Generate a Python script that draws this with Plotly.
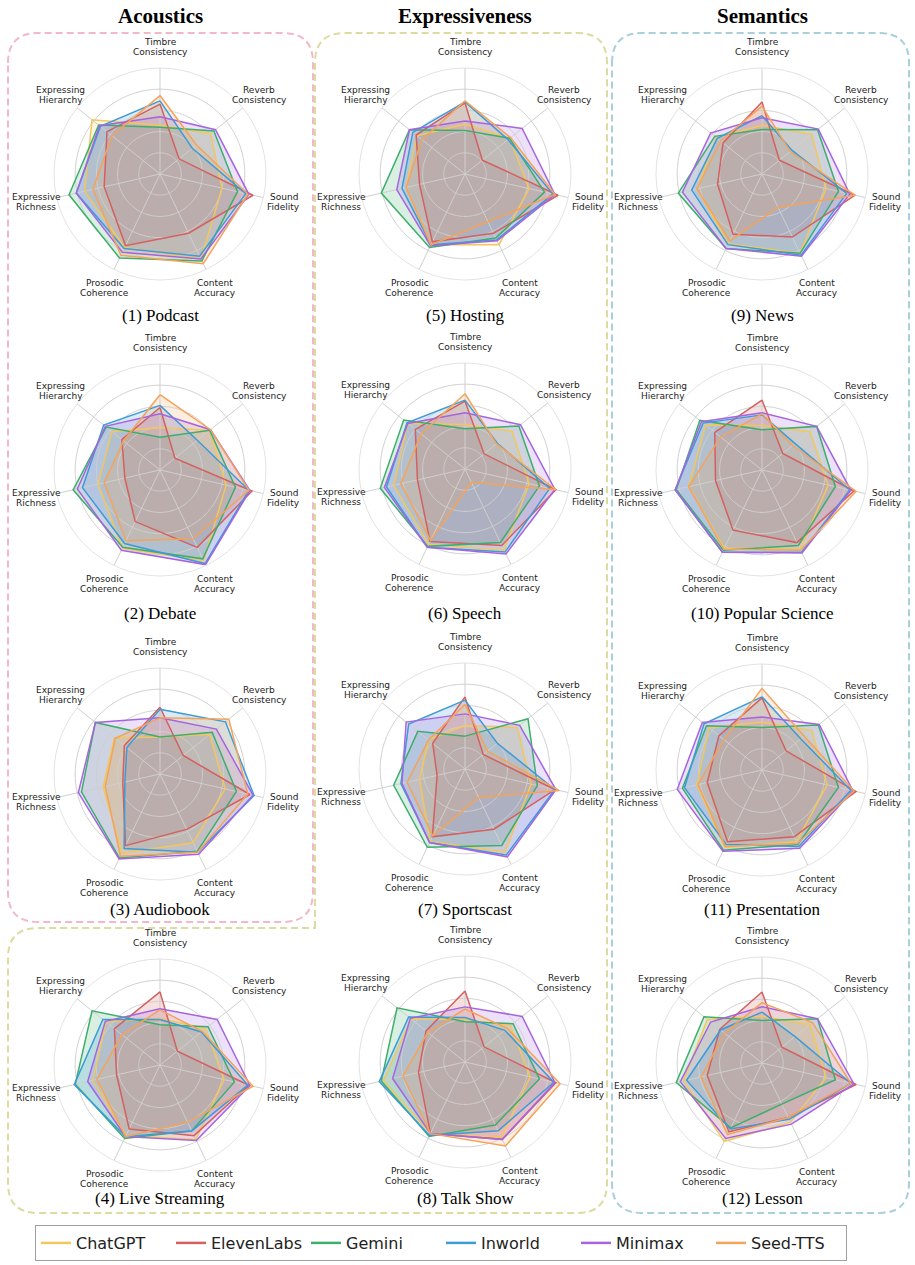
import numpy as np
import plotly.graph_objects as go

W, H = 915, 1265

AXES = ["Timbre<br>Consistency", "Reverb<br>Consistency", "Sound<br>Fidelity",
        "Content<br>Accuracy", "Prosodic<br>Coherence", "Expressive<br>Richness",
        "Expressing<br>Hierarchy"]
MODELS = ["ChatGPT", "ElevenLabs", "Gemini", "Inworld", "Minimax", "Seed-TTS"]
COLORS = ["#F2C75C", "#D4605F", "#3DAE6B", "#3D9BD8", "#A565E0", "#F4A35A"]
GROUPS = ["Acoustics", "Expressiveness", "Semantics"]
GRID_LEVELS = [1, 2, 3, 4]
R_MAX = 5

# rows: ChatGPT, ElevenLabs, Gemini, Inworld, Minimax, Seed-TTS
# cols: Timbre, Reverb, Sound Fidelity, Content Acc., Prosodic Coh., Expressive Rich., Expressing Hier.
podcast = [
    [2.30, 3.05, 3.00, 4.45, 3.85, 3.65, 4.10],
    [3.30, 1.15, 4.50, 3.10, 3.75, 2.70, 3.20],
    [2.20, 3.25, 3.75, 4.55, 4.40, 4.40, 3.70],
    [3.45, 1.95, 4.15, 4.30, 3.90, 4.05, 3.60],
    [2.70, 3.35, 4.30, 4.45, 4.10, 4.05, 3.65],
    [3.70, 2.20, 4.25, 4.70, 4.25, 3.25, 2.90],
]
debate = [
    [2.00, 3.00, 3.20, 4.75, 4.10, 3.00, 2.90],
    [2.95, 0.90, 4.45, 4.05, 2.70, 1.70, 2.30],
    [1.55, 3.00, 3.65, 4.65, 4.05, 4.20, 3.25],
    [3.05, 2.25, 4.30, 4.90, 3.85, 3.75, 3.40],
    [2.65, 3.05, 4.35, 4.95, 4.20, 4.00, 3.30],
    [3.55, 3.05, 4.30, 3.60, 3.70, 2.70, 2.20],
]
audiobook = [
    [1.75, 3.00, 3.15, 3.60, 4.15, 2.75, 2.75],
    [3.15, 1.40, 4.35, 2.90, 3.75, 1.80, 2.15],
    [1.75, 3.15, 3.70, 4.05, 4.40, 3.80, 3.90],
    [3.05, 3.95, 4.55, 4.10, 3.90, 1.70, 2.00],
    [2.65, 3.40, 4.50, 4.20, 4.45, 3.95, 3.90],
    [2.65, 4.15, 4.25, 4.10, 4.30, 2.65, 2.70],
]
live_streaming = [
    [2.20, 2.75, 3.10, 3.90, 3.70, 3.25, 3.25],
    [3.45, 1.05, 4.30, 3.70, 3.35, 2.10, 2.75],
    [1.90, 2.90, 3.60, 3.45, 3.85, 4.10, 4.10],
    [2.15, 2.50, 4.25, 3.45, 3.75, 4.15, 3.45],
    [2.65, 3.45, 4.35, 3.95, 3.75, 3.50, 3.30],
    [2.60, 2.55, 4.50, 3.00, 3.75, 3.05, 2.30],
]
hosting = [
    [2.35, 2.70, 3.10, 3.70, 3.70, 2.85, 2.90],
    [3.35, 1.05, 4.50, 3.10, 3.55, 2.20, 2.95],
    [2.05, 2.70, 3.85, 3.35, 3.85, 4.05, 3.35],
    [3.40, 2.60, 4.25, 3.45, 3.70, 3.05, 3.15],
    [2.50, 3.45, 4.35, 3.50, 3.75, 3.30, 3.35],
    [3.45, 2.75, 4.35, 2.50, 3.70, 2.85, 2.60],
]
speech = [
    [2.10, 2.85, 3.10, 4.25, 3.95, 3.45, 3.45],
    [3.20, 1.15, 4.40, 4.00, 3.80, 2.30, 3.00],
    [1.90, 3.25, 3.60, 3.85, 4.05, 4.10, 3.70],
    [3.25, 1.95, 4.10, 4.35, 4.10, 3.80, 3.50],
    [2.65, 3.35, 4.35, 4.45, 4.10, 3.90, 3.45],
    [3.55, 1.90, 4.40, 0.70, 3.75, 3.10, 2.65],
]
sportscast = [
    [2.05, 3.15, 3.20, 4.35, 3.80, 2.20, 2.20],
    [3.40, 1.10, 4.35, 3.15, 3.55, 1.35, 1.95],
    [1.55, 3.80, 3.50, 4.00, 4.10, 3.45, 2.85],
    [3.25, 1.95, 4.35, 4.50, 3.85, 3.10, 3.40],
    [2.60, 3.30, 4.40, 4.60, 3.85, 3.05, 3.55],
    [3.05, 1.35, 4.55, 1.50, 3.50, 2.80, 2.20],
]
talk_show = [
    [2.00, 2.75, 3.15, 3.95, 3.75, 3.95, 3.25],
    [3.35, 1.15, 4.40, 4.05, 3.75, 2.25, 2.35],
    [1.90, 2.90, 3.60, 3.30, 3.90, 4.05, 4.10],
    [2.10, 2.40, 4.30, 3.60, 3.85, 4.15, 3.40],
    [2.60, 3.45, 4.35, 4.05, 3.75, 3.50, 3.30],
    [2.50, 2.55, 4.60, 4.40, 3.75, 3.00, 2.25],
]
news = [
    [2.30, 3.00, 3.10, 4.15, 3.65, 3.15, 2.75],
    [3.40, 1.05, 4.50, 3.30, 3.15, 2.15, 2.35],
    [2.10, 3.35, 3.70, 4.15, 3.90, 4.05, 2.85],
    [2.75, 1.80, 4.10, 4.25, 3.70, 3.40, 2.70],
    [2.65, 3.40, 4.25, 4.30, 3.90, 3.85, 3.10],
    [3.20, 1.70, 4.50, 1.75, 3.50, 3.15, 2.50],
]
popular_science = [
    [2.10, 2.90, 3.20, 4.15, 4.10, 3.55, 3.40],
    [3.30, 1.25, 4.45, 3.80, 3.15, 2.25, 2.85],
    [1.90, 3.30, 3.55, 3.95, 4.20, 4.15, 3.75],
    [2.60, 2.00, 4.25, 4.30, 4.30, 4.20, 3.55],
    [2.70, 3.30, 4.30, 4.35, 4.30, 4.20, 3.65],
    [2.65, 1.85, 4.55, 4.20, 4.15, 3.55, 2.50],
]
presentation = [
    [2.25, 3.00, 3.15, 3.75, 4.05, 3.15, 3.20],
    [3.40, 1.45, 4.55, 3.50, 3.75, 2.65, 2.60],
    [2.00, 3.40, 3.70, 3.90, 4.20, 3.85, 3.35],
    [3.45, 2.35, 4.30, 4.00, 3.90, 3.75, 3.50],
    [2.50, 3.45, 4.40, 4.10, 4.25, 4.10, 3.60],
    [3.85, 2.55, 4.45, 3.85, 4.00, 3.10, 2.30],
]
lesson = [
    [2.20, 2.90, 3.10, 3.10, 4.10, 3.80, 3.30],
    [3.35, 1.20, 4.55, 2.85, 3.60, 2.65, 2.55],
    [2.00, 3.35, 3.55, 2.15, 3.40, 4.15, 3.50],
    [2.40, 2.00, 4.30, 2.95, 3.45, 3.65, 2.50],
    [2.65, 3.35, 4.45, 3.20, 3.95, 3.95, 3.10],
    [2.85, 3.05, 4.30, 2.85, 3.75, 2.95, 2.25],
]

SCENARIO_NAMES = ["(1) Podcast", "(2) Debate", "(3) Audiobook", "(4) Live Streaming",
                  "(5) Hosting", "(6) Speech", "(7) Sportscast", "(8) Talk Show",
                  "(9) News", "(10) Popular Science", "(11) Presentation", "(12) Lesson"]
SCENARIO_DATA = [podcast, debate, audiobook, live_streaming,
                 hosting, speech, sportscast, talk_show,
                 news, popular_science, presentation, lesson]

# ---- layout geometry (pixels) ----
COL_X = [160, 465, 762]
ROW_Y = [[174, 470, 774, 1065], [174, 469, 769, 1062], [174, 470, 770, 1063]]
CAPTION_Y = [315, 613, 910, 1198]
RADIUS = 106
LABEL_DIST = 127
LABEL_LINE_GAP = 10


def rgba(hexc, a):
    h = hexc.lstrip("#")
    return f"rgba({int(h[0:2],16)},{int(h[2:4],16)},{int(h[4:6],16)},{a})"


def px(x):
    return x / W


def py(y):
    return 1 - y / H


n_ax = len(AXES)
theta_axes = [k * 360.0 / n_ax for k in range(n_ax)]
theta_closed = theta_axes + [theta_axes[0]]
circle_theta = list(np.linspace(0, 360, 241))

GRID_COLOR = "#cfcfcf"
fig = go.Figure()
layout_polars = {}
annotations = []

for idx, (name, data) in enumerate(zip(SCENARIO_NAMES, SCENARIO_DATA)):
    col, row = idx // 4, idx % 4
    cx, cy = COL_X[col], ROW_Y[col][row]
    pid = "polar" if idx == 0 else f"polar{idx+1}"
    sub = pid
    # fills
    for m, vals in enumerate(data):
        fig.add_trace(go.Scatterpolar(
            r=vals + [vals[0]], theta=theta_closed, mode="lines", fill="toself",
            fillcolor=rgba(COLORS[m], 0.2), line=dict(width=0, color=COLORS[m]),
            subplot=sub, showlegend=False, hoverinfo="skip"))
    # grid above fills (matplotlib style)
    for lv in GRID_LEVELS:
        fig.add_trace(go.Scatterpolar(
            r=[lv] * len(circle_theta), theta=circle_theta, mode="lines",
            line=dict(width=1, color=GRID_COLOR), subplot=sub,
            showlegend=False, hoverinfo="skip"))
    sr, st = [], []
    for t in theta_axes:
        sr += [0, R_MAX, None]
        st += [t, t, None]
    fig.add_trace(go.Scatterpolar(
        r=sr, theta=st, mode="lines", line=dict(width=1, color=GRID_COLOR),
        subplot=sub, showlegend=False, hoverinfo="skip", connectgaps=False))
    # lines
    for m, vals in enumerate(data):
        fig.add_trace(go.Scatterpolar(
            r=vals + [vals[0]], theta=theta_closed, mode="lines",
            line=dict(width=1.5, color=COLORS[m]), subplot=sub,
            showlegend=False, name=MODELS[m]))

    layout_polars[pid] = dict(
        domain=dict(x=[px(cx - RADIUS), px(cx + RADIUS)],
                    y=[py(cy + RADIUS), py(cy - RADIUS)]),
        bgcolor="white",
        radialaxis=dict(range=[0, R_MAX], showticklabels=False, ticks="",
                        showgrid=False, showline=False),
        angularaxis=dict(rotation=90, direction="clockwise", thetaunit="degrees",
                         tickmode="array", tickvals=theta_axes, ticktext=AXES,
                         showticklabels=False, ticks="",
                         showgrid=False, showline=True, linecolor="#e3e3e3",
                         linewidth=1),
    )
    # axis labels, centred like matplotlib theta tick labels (two lines)
    for k, lab in enumerate(AXES):
        ang = np.deg2rad(90 - theta_axes[k])
        lx = cx + LABEL_DIST * np.cos(ang)
        ly = cy - LABEL_DIST * np.sin(ang)
        parts = lab.split("<br>")
        for j, part in enumerate(parts):
            off = (j - (len(parts) - 1) / 2) * LABEL_LINE_GAP
            annotations.append(dict(
                text=part, x=px(lx), y=py(ly + off), xref="paper", yref="paper",
                showarrow=False, xanchor="center", yanchor="middle",
                font=dict(family="DejaVu Sans", size=9, color="#222")))
    annotations.append(dict(
        text=name, x=px(cx), y=py(CAPTION_Y[row]), xref="paper", yref="paper",
        showarrow=False, xanchor="center", yanchor="middle",
        font=dict(family="Liberation Serif", size=17, color="black")))

# legend-only entries
for m, model in enumerate(MODELS):
    fig.add_trace(go.Scatterpolar(
        r=[None], theta=[None], mode="lines", name=model,
        line=dict(width=2.5, color=COLORS[m]), subplot="polar", showlegend=True))

for g, gname in enumerate(GROUPS):
    annotations.append(dict(
        text=f"<b>{gname}</b>", x=px(COL_X[g]), y=py(16), xref="paper", yref="paper",
        showarrow=False, xanchor="center", yanchor="middle",
        font=dict(family="Liberation Serif", size=21, color="black")))


def P(x, y):
    return f"{px(x):.5f},{py(y):.5f}"


def rect_path(l, t, r, b, rad):
    return (f"M {P(l, t+rad)} Q {P(l, t)} {P(l+rad, t)} L {P(r-rad, t)} "
            f"Q {P(r, t)} {P(r, t+rad)} L {P(r, b-rad)} Q {P(r, b)} {P(r-rad, b)} "
            f"L {P(l+rad, b)} Q {P(l, b)} {P(l, b-rad)} Z")


rad = 30
pink = rect_path(8, 33, 313, 922, rad)
blue = rect_path(612, 33, 909, 1213, rad)
yellow = (f"M {P(315, 928)} L {P(315, 33+rad)} Q {P(315, 33)} {P(315+rad, 33)} "
          f"L {P(607-rad, 33)} Q {P(607, 33)} {P(607, 33+rad)} L {P(607, 1213-rad)} "
          f"Q {P(607, 1213)} {P(607-rad, 1213)} L {P(8+rad, 1213)} Q {P(8, 1213)} {P(8, 1213-rad)} "
          f"L {P(8, 928+rad)} Q {P(8, 928)} {P(8+rad, 928)} Z")

shapes = []
for path, colr in [(pink, "#F2B8C8"), (yellow, "#DCDCA0"), (blue, "#A8CFDA")]:
    shapes.append(dict(type="path", path=path, xref="paper", yref="paper",
                       line=dict(color=colr, width=2, dash="7px,4px"), layer="below"))

fig.update_layout(
    width=W, height=H, margin=dict(l=0, r=0, t=0, b=0),
    paper_bgcolor="white", plot_bgcolor="white",
    showlegend=True,
    legend=dict(orientation="h", x=px(35), xanchor="left", y=py(1243), yanchor="middle",
                font=dict(family="DejaVu Sans", size=16, color="#222"),
                bordercolor="#a0a0a0", borderwidth=1, bgcolor="white",
                entrywidth=90, itemwidth=30),
    annotations=annotations, shapes=shapes,
    **layout_polars,
)

fig.write_html("out.html")
